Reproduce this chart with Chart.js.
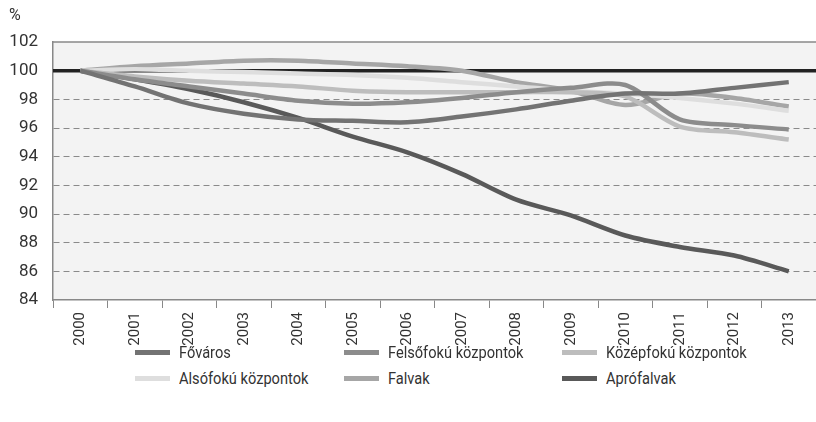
<!DOCTYPE html>
<html lang="hu">
<head>
    <meta charset="UTF-8">
    <title>Népesség változása 2000-2013</title>
    <script src="https://cdn.jsdelivr.net/npm/chart.js"></script>
    <style>
        body {
            margin: 0;
            background: #ffffff;
            font-family: "Roboto", "Liberation Sans", sans-serif;
            color: #333;
        }
        .wrap {
            position: relative;
            width: 816px;
            height: 422px;
        }
        .chart-box {
            position: absolute;
            left: 0;
            top: 0;
            width: 816px;
            height: 346px;
        }
        .unit {
            position: absolute;
            left: 9px;
            top: 5px;
            font-size: 16px;
        }
        .legend {
            position: absolute;
            left: 0;
            top: 340px;
            width: 816px;
        }
        .legend-item {
            position: absolute;
            display: flex;
            align-items: center;
            font-size: 17px;
            height: 24px;
            white-space: nowrap;
        }
        .legend-item .sw {
            display: inline-block;
            width: 35px;
            height: 5px;
            margin-right: 9px;
        }
        .legend-item .txt {
            display: inline-block;
            transform: scaleX(0.86);
            transform-origin: left center;
        }
    </style>
</head>
<body>
    <div class="wrap">
        <div class="chart-box">
            <canvas id="popChart"></canvas>
        </div>
        <div class="unit">%</div>
        <div class="legend" id="legend"></div>
    </div>

    <script>
        const years = ['2000', '2001', '2002', '2003', '2004', '2005', '2006',
                       '2007', '2008', '2009', '2010', '2011', '2012', '2013'];

        const fovaros     = [100, 98.9, 97.7, 97.0, 96.6, 96.5, 96.4, 96.8, 97.3, 97.9, 98.4, 98.4, 98.8, 99.2];
        const felsofoku   = [100, 99.4, 98.9, 98.4, 97.9, 97.7, 97.8, 98.1, 98.5, 98.8, 99.0, 96.6, 96.2, 95.9];
        const kozepfoku   = [100, 99.6, 99.3, 99.1, 98.9, 98.6, 98.5, 98.5, 98.5, 98.5, 98.2, 96.1, 95.7, 95.2];
        const alsofoku    = [100, 100.1, 100.0, 99.9, 99.8, 99.7, 99.5, 99.2, 98.9, 98.6, 98.4, 98.1, 97.7, 97.2];
        const falvak      = [100, 100.3, 100.5, 100.7, 100.7, 100.5, 100.3, 100.0, 99.2, 98.6, 97.6, 98.4, 98.1, 97.5];
        const aprofalvak  = [100, 99.4, 98.7, 97.8, 96.7, 95.4, 94.3, 92.8, 91.0, 89.9, 88.5, 87.7, 87.1, 86.0];

        const baseline = 100;

        const series = [
            { label: 'Főváros', data: fovaros, color: '#737373' },
            { label: 'Felsőfokú központok', data: felsofoku, color: '#8c8c8c' },
            { label: 'Középfokú központok', data: kozepfoku, color: '#bdbdbd' },
            { label: 'Alsófokú központok', data: alsofoku, color: '#dedede' },
            { label: 'Falvak', data: falvak, color: '#a6a6a6' },
            { label: 'Aprófalvak', data: aprofalvak, color: '#595959' }
        ];

        const fontFamily = 'Roboto, "Liberation Sans", sans-serif';

        // plot background, top border and the black 100 line
        const plotDecor = {
            id: 'plotDecor',
            beforeDraw(chart) {
                const { ctx, chartArea: a } = chart;
                ctx.save();
                ctx.fillStyle = '#f3f3f3';
                ctx.fillRect(a.left, a.top, a.right - a.left, a.bottom - a.top);
                ctx.restore();
            },
            beforeDatasetsDraw(chart) {
                const { ctx, chartArea: a, scales } = chart;
                const y = scales.y.getPixelForValue(baseline);
                const top = scales.y.getPixelForValue(scales.y.max);
                ctx.save();
                ctx.strokeStyle = '#888';
                ctx.lineWidth = 1.5;
                ctx.beginPath();
                ctx.moveTo(a.left, top);
                ctx.lineTo(a.right, top);
                ctx.stroke();
                ctx.strokeStyle = '#222';
                ctx.lineWidth = 3.5;
                ctx.beginPath();
                ctx.moveTo(a.left, y);
                ctx.lineTo(a.right, y);
                ctx.stroke();
                ctx.restore();
            }
        };

        const ctx = document.getElementById('popChart').getContext('2d');
        new Chart(ctx, {
            type: 'line',
            data: {
                labels: years,
                datasets: series.map(s => ({
                    label: s.label,
                    data: s.data,
                    borderColor: s.color,
                    backgroundColor: s.color,
                    borderWidth: 4.5,
                    pointRadius: 0,
                    tension: 0.3,
                    fill: false
                }))
            },
            options: {
                responsive: true,
                maintainAspectRatio: false,
                animation: false,
                layout: {
                    padding: { top: 42, right: 0, left: 0, bottom: 0 }
                },
                plugins: {
                    legend: { display: false },
                    tooltip: { enabled: false }
                },
                scales: {
                    x: {
                        offset: true,
                        grid: {
                            offset: true,
                            drawOnChartArea: false,
                            drawTicks: true,
                            tickLength: 8,
                            color: '#888'
                        },
                        border: { color: '#888', width: 1.5 },
                        ticks: {
                            minRotation: 90,
                            maxRotation: 90,
                            padding: 4,
                            color: '#333',
                            font: { family: fontFamily, size: 15 }
                        },
                        afterFit(scale) { scale.height = 46; }
                    },
                    y: {
                        min: 84,
                        max: 102,
                        ticks: {
                            stepSize: 2,
                            padding: 15,
                            color: '#333',
                            font: { family: fontFamily, size: 17 }
                        },
                        grid: {
                            drawTicks: false,
                            color: c => (c.tick.value > 84 && c.tick.value < 100) ? '#8a8a8a' : 'rgba(0,0,0,0)',
                            lineWidth: 1
                        },
                        border: { color: '#888', width: 1.5, dash: [6, 4] },
                        afterFit(scale) { scale.width = 53; }
                    }
                }
            },
            plugins: [plotDecor]
        });

        // legend in three columns, two rows
        const cols = [135, 344, 562];
        const rows = [0, 26];
        const legend = document.getElementById('legend');
        series.forEach((s, i) => {
            const item = document.createElement('div');
            item.className = 'legend-item';
            item.style.left = cols[i % 3] + 'px';
            item.style.top = rows[Math.floor(i / 3)] + 'px';
            item.innerHTML = '<span class="sw" style="background:' + s.color + '"></span>' +
                             '<span class="txt">' + s.label + '</span>';
            legend.appendChild(item);
        });
    </script>
</body>
</html>
